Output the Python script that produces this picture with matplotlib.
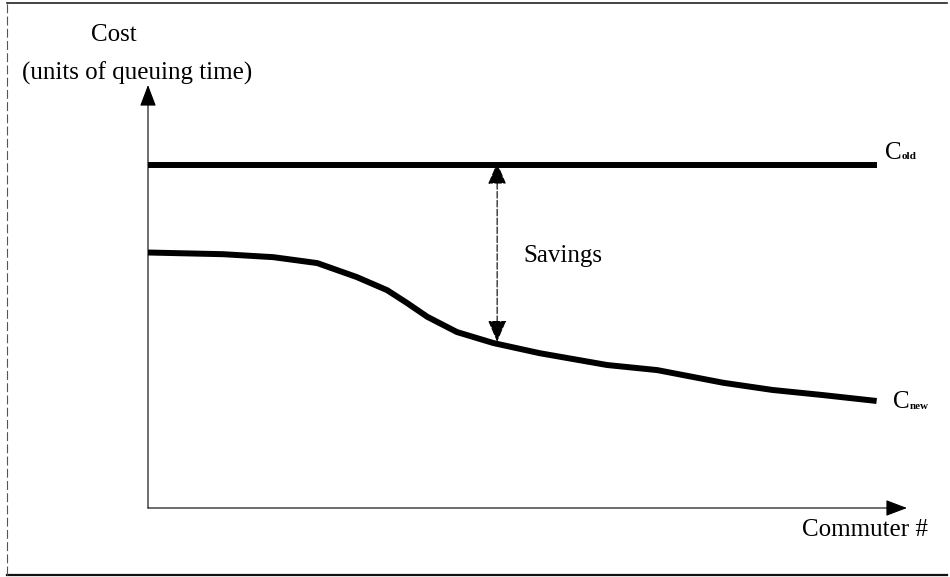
import numpy as np
import matplotlib
matplotlib.use("Agg")
import matplotlib.pyplot as plt
from matplotlib.lines import Line2D

plt.rcParams['font.family'] = ['Liberation Serif', 'DejaVu Serif']

# commuter index (0..100 along the x arrow), cost (0..10 along the y arrow)
commuter = [0, 9.9, 16.5, 22.3, 27.5, 31.5, 34.1, 36.8, 40.7, 45.5,
            51.6, 60.5, 67.1, 75.8, 82.3, 88.9, 96.0]
cost_new = [6.04, 6.00, 5.93, 5.79, 5.46, 5.15, 4.85, 4.52, 4.16, 3.90,
            3.66, 3.38, 3.26, 2.96, 2.79, 2.67, 2.53]
cost_old = 8.11
savings_at = 46.0

fig = plt.figure(figsize=(9.5, 5.77), dpi=100)
ax = fig.add_axes([148 / 950, 69 / 577, 759 / 950, 423 / 577])
ax.set_xlim(0, 100)
ax.set_ylim(0, 10)
ax.axis('off')

# frame round the figure
fig.add_artist(Line2D([7 / 950, 947 / 950], [1 - 3 / 577, 1 - 3 / 577],
                      transform=fig.transFigure, color='#222', lw=1.2))
fig.add_artist(Line2D([7 / 950, 947 / 950], [2 / 577, 2 / 577],
                      transform=fig.transFigure, color='#111', lw=1.6))
fig.add_artist(Line2D([7 / 950, 7 / 950], [2 / 577, 1 - 3 / 577],
                      transform=fig.transFigure, color='#555', lw=0.8,
                      ls=(0, (8, 3))))

# axes arrows
arrow = dict(arrowstyle='-|>,head_length=0.95,head_width=0.36', color='black',
             lw=0.8, shrinkA=0, shrinkB=0, mutation_scale=14)
ax.annotate('', xy=(0, 10), xytext=(0, 0), arrowprops=arrow, annotation_clip=False)
ax.annotate('', xy=(100, 0), xytext=(0, 0), arrowprops=arrow, annotation_clip=False)

# cost curves
ax.plot([0, commuter[-1]], [cost_old, cost_old], color='black', lw=4.3,
        solid_capstyle='butt', clip_on=False)
ax.plot(commuter, cost_new, color='black', lw=4.3, solid_joinstyle='round',
        solid_capstyle='butt', clip_on=False)

# savings arrow
low = np.interp(savings_at, commuter, cost_new)
ax.annotate('', xy=(savings_at, cost_old + 0.05), xytext=(savings_at, low + 0.05),
            arrowprops=dict(arrowstyle='<|-|>,head_length=0.75,head_width=0.32',
                            color='black', lw=0.8, ls=(0, (6, 2)),
                            shrinkA=0, shrinkB=0, mutation_scale=18))
ax.text(49.5, 5.95, 'Savings', fontsize=18, va='center', ha='left')

# labels
fs = 18
c_old = ax.text(97.1, 8.4, 'C', fontsize=fs, va='center', ha='left')
ax.annotate('old', xy=(1.0, 0.1), xycoords=c_old, fontsize=8, fontweight='bold',
            va='bottom', ha='left')
c_new = ax.text(98.2, 2.5, 'C', fontsize=fs, va='center', ha='left')
ax.annotate('new', xy=(1.0, 0.1), xycoords=c_new, fontsize=8, fontweight='bold',
            va='bottom', ha='left')

ax.text(-4.5, 11.18, 'Cost', fontsize=fs, va='center', ha='center')
ax.text(-1.45, 10.28, '(units of queuing time)', fontsize=fs, va='center', ha='center')
ax.text(102.8, -0.52, 'Commuter #', fontsize=fs, va='center', ha='right')

fig.savefig('out.png', dpi=100)
